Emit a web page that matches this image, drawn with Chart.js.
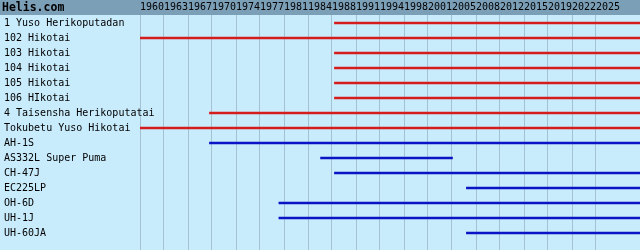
<!DOCTYPE html>
<html>
<head>
<meta charset="utf-8">
<script src="https://cdn.jsdelivr.net/npm/chart.js@4/dist/chart.umd.min.js"></script>
<style>
  html, body { margin: 0; padding: 0; background: #c9ecfc; }
  canvas { display: block; }
</style>
</head>
<body>
<canvas id="grafica" width="640" height="250"></canvas>
<script>
const rows = ['1 Yuso Herikoputadan', '102 Hikotai', '103 Hikotai', '104 Hikotai', '105 Hikotai',
    '106 HIkotai', '4 Taisensha Herikoputatai', 'Tokubetu Yuso Hikotai', 'AH-1S',
    'AS332L Super Puma', 'CH-47J', 'EC225LP', 'OH-6D', 'UH-1J', 'UH-60JA'];
const kind = ['unit', 'unit', 'unit', 'unit', 'unit', 'unit', 'unit', 'unit',
    'type', 'type', 'type', 'type', 'type', 'type', 'type'];
const startYear = [1988, 1960, 1988, 1988, 1988, 1988, 1970, 1960,
    1970, 1986, 1988, 2007, 1980, 1980, 2007];
const endYear = [2032, 2032, 2032, 2032, 2032, 2032, 2032, 2032,
    2032, 2005, 2032, 2032, 2032, 2032, 2032];
const tickLabels = ['1960', '1963', '1967', '1970', '1974', '1977', '1981', '1984', '1988', '1991',
    '1994', '1998', '2001', '2005', '2008', '2012', '2015', '2019', '2022', '2025'];

const yearMin = 1960;
const yearMax = 2032;
const tickStep = (yearMax - yearMin) * 24 / 500;

function spans(k) {
    return rows.map((r, i) => kind[i] === k ? { x: [startYear[i], endYear[i]], y: i } : null)
        .filter(d => d !== null);
}

const units = {
    label: 'Units',
    data: spans('unit'),
    backgroundColor: '#d41c1c',
    barThickness: 2,
    grouped: false
};

const types = {
    label: 'Types',
    data: spans('type'),
    backgroundColor: '#0a14c4',
    barThickness: 2,
    grouped: false
};

const header = {
    id: 'header',
    beforeDraw(chart) {
        const ctx = chart.ctx;
        ctx.save();
        ctx.fillStyle = '#c9ecfc';
        ctx.fillRect(0, 0, chart.width, chart.height);
        ctx.fillStyle = '#7c9fb8';
        ctx.fillRect(0, 0, chart.width, chart.chartArea.top);
        ctx.fillStyle = '#000';
        ctx.font = 'bold 11.5px "DejaVu Sans Mono"';
        ctx.textBaseline = 'middle';
        ctx.fillText('Helis.com', 2, 8);
        ctx.restore();
    }
};

const graph = document.querySelector('#grafica');

new Chart(graph, {
    type: 'bar',
    data: { datasets: [units, types] },
    options: {
        indexAxis: 'y',
        responsive: false,
        animation: false,
        devicePixelRatio: 1,
        layout: { padding: { left: 4, top: 0, right: 0, bottom: 0 } },
        plugins: { legend: { display: false }, tooltip: { enabled: false } },
        scales: {
            x: {
                type: 'linear',
                position: 'top',
                min: yearMin,
                max: yearMax,
                afterBuildTicks: s => { s.ticks = tickLabels.map((l, i) => ({ value: yearMin + i * tickStep })); },
                afterFit: s => { s.height = 15; },
                grid: { color: '#a4c2d4', drawTicks: false },
                border: { display: false },
                ticks: {
                    align: 'start',
                    maxRotation: 0,
                    minRotation: 0,
                    autoSkip: false,
                    padding: 2,
                    color: '#000',
                    font: { family: 'DejaVu Sans Mono', size: 10 },
                    callback: (v, i) => tickLabels[i]
                }
            },
            y: {
                type: 'linear',
                reverse: true,
                offset: false,
                min: -0.5 - 0.5 / 15,
                max: -0.5 - 0.5 / 15 + 235 / 15,
                afterBuildTicks: s => { s.ticks = rows.map((r, i) => ({ value: i })); },
                afterFit: s => { s.width = 136; },
                grid: { display: false },
                border: { display: false },
                ticks: {
                    mirror: true,
                    crossAlign: 'near',
                    padding: -136,
                    color: '#000',
                    font: { family: 'DejaVu Sans Mono', size: 10 },
                    callback: (v, i) => rows[i]
                }
            }
        }
    },
    plugins: [header]
});
</script>
</body>
</html>
